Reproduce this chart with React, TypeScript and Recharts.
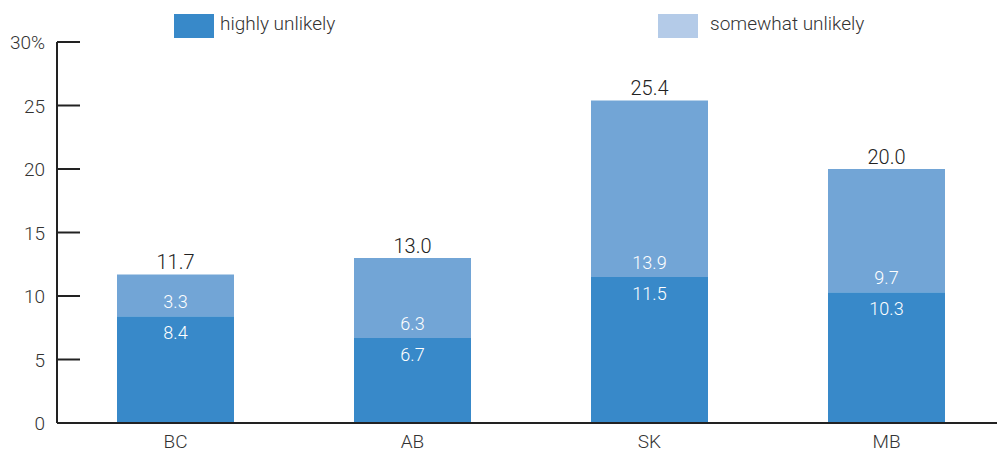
import React from 'react';
import { BarChart, Bar, XAxis, YAxis, LabelList } from 'recharts';

const provinces = ['BC', 'AB', 'SK', 'MB'];
const highlyUnlikely = [8.4, 6.7, 11.5, 10.3];
const somewhatUnlikely = [3.3, 6.3, 13.9, 9.7];
const yTicks = [0, 5, 10, 15, 20, 25, 30];

const DARK = '#3889c9';
const LIGHT = '#72a5d6';
const LIGHT_SWATCH = '#b4cbe8';
const FONT = 'Roboto, "Liberation Sans", sans-serif';

const data = provinces.map((name, i) => ({
    name,
    high: highlyUnlikely[i],
    some: somewhatUnlikely[i],
    total: highlyUnlikely[i] + somewhatUnlikely[i],
}));

const YTick: React.FC<any> = ({ y, payload }) => (
    <g>
        <line x1={57} x2={80} y1={y} y2={y} stroke="#222" strokeWidth={2} />
        <text x={45} y={y + 7} textAnchor="end" fontSize={19} fontWeight={300} fill="#333" fontFamily={FONT}>
            {payload.value === 30 ? '30%' : payload.value}
        </text>
    </g>
);

const XTick: React.FC<any> = ({ x, payload }) => (
    <text x={x} y={448} textAnchor="middle" fontSize={19} fontWeight={300} fill="#333" fontFamily={FONT}>
        {payload.value}
    </text>
);

const darkLabel = (p: any) => (
    <text x={p.x + p.width / 2} y={p.y + 23} textAnchor="middle" fontSize={18} fontWeight={300} fill="#fff" fontFamily={FONT}>
        {Number(p.value).toFixed(1)}
    </text>
);

const lightLabel = (p: any) => (
    <text x={p.x + p.width / 2} y={p.y + p.height - 8} textAnchor="middle" fontSize={18} fontWeight={300} fill="#fff" fontFamily={FONT}>
        {Number(p.value).toFixed(1)}
    </text>
);

const totalLabel = (p: any) => (
    <text x={p.x + p.width / 2} y={p.y - 5} textAnchor="middle" fontSize={20} fontWeight={300} fill="#222" fontFamily={FONT}>
        {Number(p.value).toFixed(1)}
    </text>
);

const LegendBlock = () => (
    <div style={{ position: 'absolute', left: 0, top: 0, width: 997, height: 40, fontFamily: FONT, fontSize: 19, fontWeight: 300, color: '#333', lineHeight: '24px' }}>
        <div style={{ position: 'absolute', left: 174, top: 14, width: 40, height: 24, background: DARK }} />
        <div style={{ position: 'absolute', left: 220, top: 12 }}>highly unlikely</div>
        <div style={{ position: 'absolute', left: 658, top: 14, width: 40, height: 24, background: LIGHT_SWATCH }} />
        <div style={{ position: 'absolute', left: 710, top: 12 }}>somewhat unlikely</div>
    </div>
);

export default function App() {
    return (
        <div style={{ position: 'absolute', left: 0, top: 0, width: 997, height: 453, overflow: 'hidden', background: '#fff' }}>
            <BarChart width={1005} height={453} data={data} margin={{ top: 42, right: 0, left: 0, bottom: 0 }}>
                <YAxis
                    width={57}
                    domain={[0, 30]}
                    ticks={yTicks}
                    interval={0}
                    tickLine={false}
                    axisLine={{ stroke: '#222', strokeWidth: 2 }}
                    tick={<YTick />}
                />
                <XAxis
                    dataKey="name"
                    height={30}
                    tickLine={false}
                    axisLine={{ stroke: '#222', strokeWidth: 2 }}
                    tick={<XTick />}
                />
                <Bar dataKey="high" stackId="a" fill={DARK} barSize={117} isAnimationActive={false}>
                    <LabelList dataKey="high" content={darkLabel} />
                </Bar>
                <Bar dataKey="some" stackId="a" fill={LIGHT} barSize={117} isAnimationActive={false}>
                    <LabelList dataKey="some" content={lightLabel} />
                    <LabelList dataKey="total" content={totalLabel} />
                </Bar>
            </BarChart>
            <LegendBlock />
        </div>
    );
}
